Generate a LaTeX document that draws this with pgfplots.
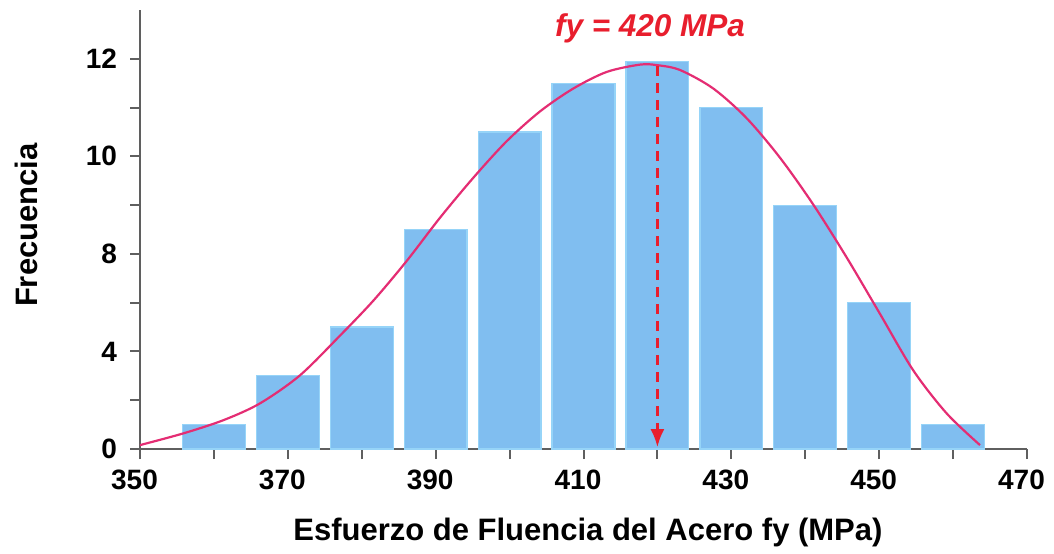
\documentclass[border=0pt]{standalone}
\usepackage{fontspec}
\setmainfont{Liberation Sans}
\usepackage{pgfplots}
\pgfplotsset{compat=1.18}
\usetikzlibrary{arrows.meta}
\definecolor{barfill}{RGB}{128,190,240}
\definecolor{baredge}{RGB}{150,212,248}
\definecolor{curvecol}{RGB}{228,45,115}
\definecolor{dashred}{RGB}{232,30,45}
\definecolor{axcol}{RGB}{95,95,95}
\begin{document}
\begin{tikzpicture}
\begin{axis}[
  scale only axis,
  width=443.5pt, height=219.5pt,
  xmin=350, xmax=470,
  ymin=0, ymax=13,
  y coord trafo/.code={\pgfmathparse{(#1<8)*(#1/4)+(1-(#1<8))*(2+(#1-8)/2)}},
  axis x line*=bottom, axis y line*=left,
  axis line style={axcol, line width=1.2pt},
  every tick/.style={axcol, line width=1pt},
  tick align=outside,
  xtick={350,370,...,470},
  minor xtick={360,380,...,460},
  ytick={0,4,8,10,12},
  yticklabels={0,4,8,10,12},
  minor ytick={2,6,9,11},
  major tick length=5pt,
  minor tick length=5pt,
  /pgf/number format/assume math mode=true,
  /pgf/number format/1000 sep={},
  tick label style={font=\bfseries\fontsize{14}{16}\selectfont, black},
  xticklabel style={xshift=-2.75pt, yshift=-2pt},
  yticklabel style={xshift=-3pt},
  xlabel={Esfuerzo de Fluencia del Acero fy (MPa)},
  ylabel={Frecuencia},
  every axis x label/.style={at={(axis description cs:0.505,-0.2073)}, anchor=base, font=\bfseries\fontsize{15.5}{18}\selectfont},
  every axis y label/.style={at={(axis description cs:-0.115,0.51)}, anchor=base, rotate=90, font=\bfseries\fontsize{15.5}{18}\selectfont},
  ybar, bar width=8.5,
  clip=false,
]
\addplot[fill=barfill, draw=baredge, line width=0.6pt] coordinates {
  (360,1) (370,3) (380,5) (390,8.5) (400,10.5) (410,11.5)
  (420,11.95) (430,11) (440,9) (450,6) (460,1)
};
\addplot[smooth, tension=0.5, curvecol, line width=1.1pt, mark=none] coordinates {
  (350.00,0.16) (355.86,0.64) (361.27,1.18) (366.23,1.87) (371.64,3.02)
  (377.06,4.65) (381.56,6.08) (386.08,7.71) (390.58,8.74) (395.09,9.56)
  (399.61,10.31) (404.11,10.92) (408.62,11.39) (413.13,11.73) (417.64,11.88)
  (419.90,11.87) (423.05,11.77) (427.56,11.39) (432.08,10.78) (436.59,9.97)
  (441.09,9.01) (445.61,7.85) (450.11,5.54) (454.62,3.22) (459.13,1.46)
  (463.64,0.16)
};
\addplot[sharp plot, dashred, line width=1.2pt, dash pattern=on 5pt off 3.5pt, mark=none,
  -{Latex[length=9pt,width=7pt]}] coordinates {(420,11.85) (420,0.08)};
\node[anchor=base, text=dashred, font=\bfseries\itshape\fontsize{15.75}{18}\selectfont]
  at (rel axis cs:0.575,0.9385) {fy = 420 MPa};
\end{axis}
\path ([shift={(-70pt,-50.5pt)}]current axis.south west) rectangle ++(527pt,275pt);
\end{tikzpicture}
\end{document}
